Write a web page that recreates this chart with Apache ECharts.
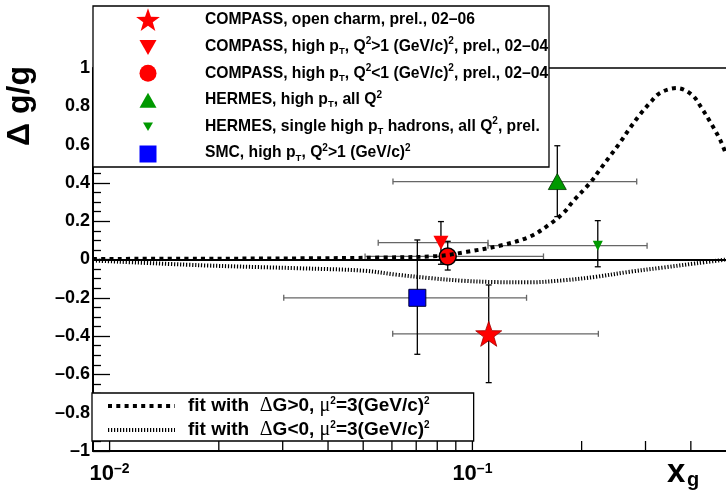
<!DOCTYPE html>
<html><head><meta charset="utf-8">
<script src="https://cdn.jsdelivr.net/npm/echarts@6/dist/echarts.min.js"></script>
<style>html,body{margin:0;padding:0;background:#fff}#c{width:726px;height:495px}</style>
</head><body><div id="c"></div>
<script>
// ---------- data ----------
const seriesNames = [
  'COMPASS, open charm, prel., 02–06',
  'COMPASS, high pT, Q²>1 (GeV/c)², prel., 02–04',
  'COMPASS, high pT, Q²<1 (GeV/c)², prel., 02–04',
  'HERMES, high pT, all Q²',
  'HERMES, single high pT hadrons, all Q², prel.',
  'SMC, high pT, Q²>1 (GeV/c)²'
];
const legendLabels = [
  'COMPASS, open charm, prel., 02–06',
  'COMPASS, high p{sub|T}, Q{sup|2}>1 (GeV/c){sup|2}, prel., 02–04',
  'COMPASS, high p{sub|T}, Q{sup|2}<1 (GeV/c){sup|2}, prel., 02–04',
  'HERMES, high p{sub|T}, all Q{sup|2}',
  'HERMES, single high p{sub|T} hadrons, all Q{sup|2}, prel.',
  'SMC, high p{sub|T}, Q{sup|2}>1 (GeV/c){sup|2}'
];
const xgCenter = [0.1109, 0.0819, 0.0855, 0.1714, 0.2216, 0.0705];
const dggCenter = [-0.388, 0.088, 0.016, 0.407, 0.072, -0.200];
const xgLow    = [0.0603, 0.0550, 0.0506, 0.0604, 0.1104, 0.0302];
const xgHigh   = [0.2224, 0.1104, 0.1570, 0.2837, 0.3030, 0.1410];
const dggLow   = [-0.643, -0.025, -0.055, 0.224, -0.038, -0.495];
const dggHigh  = [-0.133, 0.198, 0.095, 0.594, 0.203, 0.102];

const fitNames = ['fit with  ΔG>0, μ²=3(GeV/c)²', 'fit with  ΔG<0, μ²=3(GeV/c)²'];
const fitLabels = [
  'fit with  {sym|Δ}G>0, {sym|μ}{sup|2}=3(GeV/c){sup|2}',
  'fit with  {sym|Δ}G<0, {sym|μ}{sup|2}=3(GeV/c){sup|2}'
];
const fitPosX = [0.009, 0.0178, 0.0335, 0.0556, 0.0799, 0.0966, 0.1214, 0.1442, 0.1636, 0.178, 0.1897, 0.2109, 0.2247, 0.2395, 0.2551, 0.2719, 0.2897, 0.3087, 0.329, 0.3657, 0.4023, 0.4285, 0.4517, 0.4815, 0.5];
const fitPosY = [0.003, 0.004, 0.006, 0.010, 0.018, 0.040, 0.076, 0.120, 0.185, 0.242, 0.305, 0.400, 0.470, 0.540, 0.610, 0.687, 0.757, 0.818, 0.870, 0.895, 0.861, 0.790, 0.720, 0.626, 0.550];
const fitNegX = [0.009, 0.0178, 0.0335, 0.0499, 0.0617, 0.0763, 0.0942, 0.1164, 0.1439, 0.1777, 0.2196, 0.2714, 0.3354, 0.4141, 0.5];
const fitNegY = [-0.005, -0.030, -0.046, -0.058, -0.079, -0.097, -0.111, -0.118, -0.119, -0.109, -0.090, -0.064, -0.042, -0.020, 0.000];

const xTickValues = [0.01, 0.02, 0.03, 0.04, 0.05, 0.06, 0.07, 0.08, 0.09, 0.1, 0.2, 0.3, 0.4];
const xMin = 0.009, xMax = 0.5;
const yMin = -1, yMax = 1, yStep = 0.2;

// ---------- styles ----------
const FONT = 'Liberation Sans';
function starPts(cx, cy, R, r) {
  const p = [];
  for (let k = 0; k < 10; k++) {
    const a = (-90 + k * 36) * Math.PI / 180;
    const rr = k % 2 ? r : R;
    p.push([cx + rr * Math.cos(a), cy + rr * Math.sin(a)]);
  }
  return p;
}
function starPath(cx, cy, R, r) {
  return starPts(cx, cy, R, r).map((q, k) => (k ? 'L' : 'M') + q[0].toFixed(2) + ' ' + q[1].toFixed(2)).join('') + 'Z';
}
const markerSymbols = ['path://' + starPath(50, 50, 50, 20), 'triangle', 'circle', 'triangle', 'triangle', 'rect'];
const markerSizes = [[26, 25], [15, 14], 17, [18, 16], [10, 10], 17];
const markerRotate = [0, 180, 0, 0, 180, 0];
const markerColors = ['#ff0000', '#ff0000', '#ff0000', '#009900', '#009900', '#0000ff'];
const markerBorders = [['#a00000', 0.8], ['#ff0000', 0], ['#000000', 1.5], ['#003300', 0.8], ['#009900', 0], ['#000033', 1]];
const fitLineStyles = [
  { color: '#000', width: 4, type: [4, 4.3], cap: 'butt' },
  { color: '#000', width: 4, type: [1.2, 1.8], cap: 'butt' }
];

const richCommon = (main) => ({
  sup: { fontSize: 10, lineHeight: 10, verticalAlign: 'top', fontWeight: 'bold', fontFamily: FONT, fill: '#000', color: '#000' },
  sub: { fontSize: 9.5, lineHeight: 4, verticalAlign: 'bottom', fontWeight: 'bold', fontFamily: FONT, fill: '#000', color: '#000' },
  sym: { fontSize: main + 1, lineHeight: 20, fontWeight: 'normal', fontFamily: 'Liberation Serif', fill: '#000', color: '#000' }
});

// ---------- legend (box + glyphs + texts) ----------
const LEG = { x: 93, y: 6, w: 456, h: 161, iconX: 148, textX: 205, row0: 20, rowStep: 26.6 };
const legendGraphics = [{
  type: 'rect', z: 10, silent: true,
  shape: { x: LEG.x, y: LEG.y, width: LEG.w, height: LEG.h },
  style: { fill: '#fff', stroke: '#000', lineWidth: 1.3 }
}];
seriesNames.forEach((n, i) => {
  const cy = LEG.row0 + i * LEG.rowStep, cx = LEG.iconX, col = markerColors[i];
  let icon;
  if (i === 0) icon = { type: 'polygon', shape: { points: starPts(cx, cy + 0.8, 12.5, 5) } };
  else if (i === 1) icon = { type: 'polygon', shape: { points: [[cx - 8.5, cy - 6.5], [cx + 8.5, cy - 6.5], [cx, cy + 8.5]] } };
  else if (i === 2) icon = { type: 'circle', shape: { cx, cy, r: 8.5 } };
  else if (i === 3) icon = { type: 'polygon', shape: { points: [[cx - 8.5, cy + 8], [cx + 8.5, cy + 8], [cx, cy - 7]] } };
  else if (i === 4) icon = { type: 'polygon', shape: { points: [[cx - 5, cy - 4], [cx + 5, cy - 4], [cx, cy + 4.5]] } };
  else icon = { type: 'rect', shape: { x: cx - 8.5, y: cy - 7.5, width: 17, height: 17 } };
  icon.z = 11; icon.silent = true; icon.style = { fill: col };
  legendGraphics.push(icon);
  legendGraphics.push({
    type: 'text', z: 11, silent: true, x: LEG.textX, y: cy,
    style: {
      text: legendLabels[i], fontFamily: FONT, fontWeight: 'bold', fontSize: 15.7, fill: '#000',
      lineHeight: 20, align: 'left', verticalAlign: 'middle', rich: richCommon(15.7)
    }
  });
});

const chart = echarts.init(document.getElementById('c'), null, { renderer: 'canvas' });

const series = [];
// error bars
series.push({
  type: 'custom', name: 'errors', silent: true, z: 3,
  data: xgCenter.map((x, i) => [x, dggCenter[i], xgLow[i], xgHigh[i], dggLow[i], dggHigh[i]]),
  encode: { x: 0, y: 1 },
  renderItem(params, api) {
    const l = api.coord([api.value(2), api.value(1)]);
    const r = api.coord([api.value(3), api.value(1)]);
    const b = api.coord([api.value(0), api.value(4)]);
    const t = api.coord([api.value(0), api.value(5)]);
    const hs = { stroke: '#666', lineWidth: 1.3 };
    const vs = { stroke: '#000', lineWidth: 1.3 };
    const ln = (x1, y1, x2, y2, s) => ({ type: 'line', shape: { x1, y1, x2, y2 }, style: s });
    return { type: 'group', children: [
      ln(l[0], l[1], r[0], r[1], hs),
      ln(l[0], l[1] - 3, l[0], l[1] + 3, hs),
      ln(r[0], r[1] - 3, r[0], r[1] + 3, hs),
      ln(b[0], b[1], t[0], t[1], vs),
      ln(b[0] - 3, b[1], b[0] + 3, b[1], vs),
      ln(t[0] - 3, t[1], t[0] + 3, t[1], vs)
    ] };
  },
  markLine: {
    silent: true, symbol: ['none', 'none'], label: { show: false },
    lineStyle: { color: '#000', width: 2, type: 'solid' },
    data: [{ yAxis: 0 }], animation: false
  }
});
// x-axis ticks (log minor ticks)
series.push({
  type: 'custom', name: 'xticks', silent: true, z: 3,
  data: xTickValues.map(v => [v, yMin]),
  encode: { x: 0, y: 1 },
  renderItem(params, api) {
    const p = api.coord([api.value(0), api.value(1)]);
    return { type: 'line', shape: { x1: p[0], y1: p[1], x2: p[0], y2: p[1] - 10 }, style: { stroke: '#000', lineWidth: 1.3 } };
  }
});
// markers
seriesNames.forEach((n, i) => {
  series.push({
    type: 'scatter', name: n, z: 5, silent: true,
    data: [[xgCenter[i], dggCenter[i]]],
    symbol: markerSymbols[i], symbolSize: markerSizes[i], symbolRotate: markerRotate[i],
    itemStyle: { color: markerColors[i], borderColor: markerBorders[i][0], borderWidth: markerBorders[i][1], opacity: 1 }
  });
});
// fits
series.push({
  type: 'line', name: fitNames[0], z: 6, silent: true, smooth: 0.35, symbol: 'none', showSymbol: false,
  data: fitPosX.map((x, i) => [x, fitPosY[i]]),
  itemStyle: { color: 'rgba(0,0,0,0)' },
  lineStyle: fitLineStyles[0]
});
series.push({
  type: 'line', name: fitNames[1], z: 6, silent: true, smooth: 0.35, symbol: 'none', showSymbol: false,
  data: fitNegX.map((x, i) => [x, fitNegY[i]]),
  itemStyle: { color: 'rgba(0,0,0,0)' },
  lineStyle: fitLineStyles[1]
});

const option = {
  animation: false,
  backgroundColor: '#fff',
  textStyle: { fontFamily: FONT },
  grid: { left: 93, right: 0, top: 68, bottom: 44, containLabel: false },
  xAxis: [
    {
      type: 'log', logBase: 10, min: xMin, max: xMax,
      axisLine: { show: true, onZero: false, lineStyle: { color: '#000', width: 2.2 } },
      axisTick: { show: false }, splitLine: { show: false }, minorTick: { show: false },
      axisLabel: {
        margin: 11, showMinLabel: false, showMaxLabel: false,
        formatter: v => {
          const e = Math.log10(v);
          if (Math.abs(e - Math.round(e)) > 1e-6) return '';
          const ee = Math.round(e);
          return '{b|10}{s|' + (ee < 0 ? '–' + (-ee) : ee) + '}';
        },
        rich: {
          b: { fontSize: 22, lineHeight: 24, fontWeight: 'bold', fontFamily: FONT, color: '#000' },
          s: { fontSize: 14, lineHeight: 8, verticalAlign: 'top', fontWeight: 'bold', fontFamily: FONT, color: '#000' }
        }
      }
    },
    {
      type: 'log', logBase: 10, min: xMin, max: xMax, position: 'top',
      axisLine: { show: true, onZero: false, lineStyle: { color: '#000', width: 1.5 } },
      axisTick: { show: false }, axisLabel: { show: false }, splitLine: { show: false }
    }
  ],
  yAxis: {
    type: 'value', min: yMin, max: yMax, interval: yStep,
    axisLine: { show: true, onZero: false, lineStyle: { color: '#000', width: 2 } },
    axisTick: { show: true, inside: true, length: 17, lineStyle: { color: '#000', width: 1.3 } },
    minorTick: { show: true, splitNumber: 4, length: 8, lineStyle: { color: '#000', width: 1.3 } },
    splitLine: { show: false },
    axisLabel: {
      margin: 3, fontSize: 18, fontWeight: 'bold', fontFamily: FONT, color: '#000',
      formatter: v => { const s = Math.round(v * 10) / 10; return s < 0 ? '–' + (-s) : String(s); }
    }
  },
  legend: [
    {
      orient: 'vertical', left: 92, top: 393, z: 10,
      itemWidth: 67, itemHeight: 20, itemGap: 4,
      padding: [3, 44, 1, 14],
      backgroundColor: '#fff', borderColor: '#000', borderWidth: 1.3, borderRadius: 0,
      selectedMode: false,
      itemStyle: { color: 'rgba(0,0,0,0)', borderColor: 'rgba(0,0,0,0)', borderWidth: 0, opacity: 0 },
      data: fitNames.map((n, i) => ({ name: n, lineStyle: fitLineStyles[i] })),
      formatter: n => fitLabels[fitNames.indexOf(n)],
      textStyle: { fontFamily: FONT, fontWeight: 'bold', fontSize: 19, color: '#000', lineHeight: 20, padding: [0, 0, 0, 8], rich: richCommon(19) }
    }
  ],
  graphic: legendGraphics.concat([
    { type: 'text', x: 20, y: 106, rotation: Math.PI / 2, z: 20, silent: true,
      style: { text: 'Δ g/g', fontFamily: FONT, fontWeight: 'bold', fontSize: 32, fill: '#000', align: 'center', verticalAlign: 'middle' } },
    { type: 'text', x: 667, y: 472.6, z: 20, silent: true,
      style: { text: 'x', fontFamily: FONT, fontWeight: 'bold', fontSize: 33, fill: '#000', align: 'left', verticalAlign: 'middle' } },
    { type: 'text', x: 687, y: 480.5, z: 20, silent: true,
      style: { text: 'g', fontFamily: FONT, fontWeight: 'bold', fontSize: 20, fill: '#000', align: 'left', verticalAlign: 'middle' } }
  ]),
  series: series
};
chart.setOption(option);
</script>
</body></html>
